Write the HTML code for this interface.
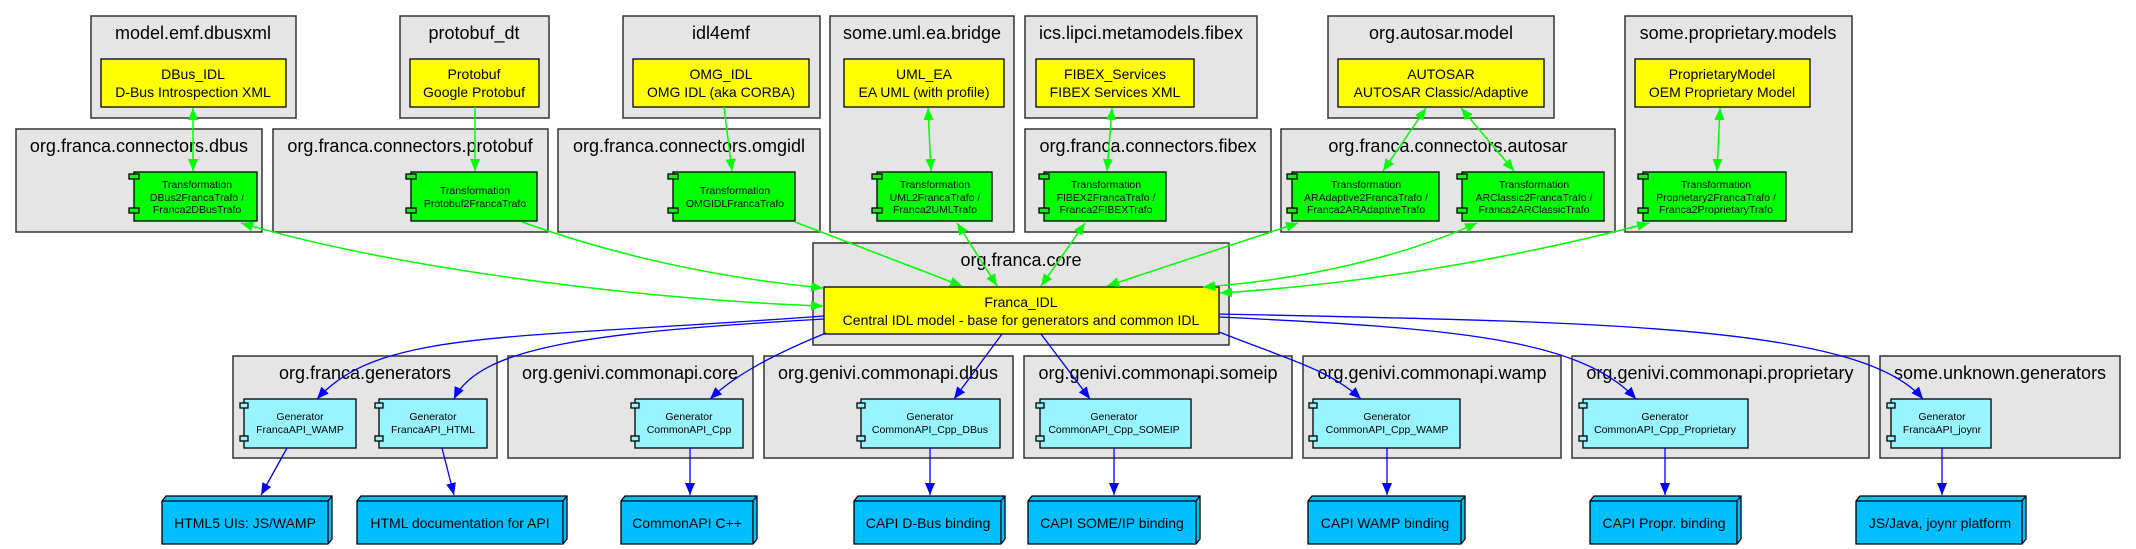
<!DOCTYPE html>
<html><head><meta charset="utf-8"><style>
html,body{margin:0;padding:0;background:#fff;}
svg{display:block;font-family:"Liberation Sans",Arial,sans-serif;}
.cl{fill:#e5e5e5;stroke:#333;stroke-width:1.5}
.ct{font-size:18px;fill:#000;text-anchor:middle}
.y{fill:#ffff00;stroke:#000;stroke-width:1.3}
.g{fill:#00ff00;stroke:#000;stroke-width:1.3}
.c{fill:#98f5ff;stroke:#000;stroke-width:1.3}
.o{fill:#00bfff;stroke:#000;stroke-width:1.3}
.t14{font-size:14px;text-anchor:middle}
.t11{font-size:10.5px;text-anchor:middle}
.ge{fill:none;stroke:#00ff00;stroke-width:1.5}
.be{fill:none;stroke:#0000ff;stroke-width:1.3}
</style></head><body>
<svg width="2136" height="549" viewBox="0 0 2136 549" xmlns="http://www.w3.org/2000/svg">
<defs>
<marker id="ga" markerUnits="userSpaceOnUse" markerWidth="14" markerHeight="12" refX="12" refY="5" orient="auto-start-reverse"><path d="M0,0 L12,5 L0,10 z" fill="#00ff00"/></marker>
<marker id="ba" markerUnits="userSpaceOnUse" markerWidth="14" markerHeight="12" refX="12" refY="5" orient="auto-start-reverse"><path d="M0,0 L12,5 L0,10 z" fill="#0000ff"/></marker>
</defs>

<!-- clusters -->
<rect class="cl" x="91" y="16" width="205" height="102"/><text class="ct" x="193" y="39">model.emf.dbusxml</text>
<rect class="cl" x="400" y="16" width="149" height="102"/><text class="ct" x="474" y="39">protobuf_dt</text>
<rect class="cl" x="623" y="16" width="197" height="102"/><text class="ct" x="721" y="39">idl4emf</text>
<rect class="cl" x="830" y="16" width="184" height="216"/><text class="ct" x="922" y="39">some.uml.ea.bridge</text>
<rect class="cl" x="1025" y="16" width="232" height="102"/><text class="ct" x="1141" y="39">ics.lipci.metamodels.fibex</text>
<rect class="cl" x="1328" y="16" width="226" height="102"/><text class="ct" x="1441" y="39">org.autosar.model</text>
<rect class="cl" x="1625" y="16" width="227" height="216"/><text class="ct" x="1738" y="39">some.proprietary.models</text>
<rect class="cl" x="16" y="129" width="246" height="103"/><text class="ct" x="139" y="152">org.franca.connectors.dbus</text>
<rect class="cl" x="273" y="129" width="275" height="103"/><text class="ct" x="410" y="152">org.franca.connectors.protobuf</text>
<rect class="cl" x="558" y="129" width="262" height="103"/><text class="ct" x="689" y="152">org.franca.connectors.omgidl</text>
<rect class="cl" x="1025" y="129" width="246" height="103"/><text class="ct" x="1148" y="152">org.franca.connectors.fibex</text>
<rect class="cl" x="1281" y="129" width="334" height="103"/><text class="ct" x="1448" y="152">org.franca.connectors.autosar</text>
<rect class="cl" x="813" y="243" width="416" height="102"/><text class="ct" x="1021" y="266">org.franca.core</text>
<rect class="cl" x="233" y="356" width="264" height="102"/><text class="ct" x="365" y="379">org.franca.generators</text>
<rect class="cl" x="508" y="356" width="245" height="102"/><text class="ct" x="630" y="379">org.genivi.commonapi.core</text>
<rect class="cl" x="764" y="356" width="249" height="102"/><text class="ct" x="888" y="379">org.genivi.commonapi.dbus</text>
<rect class="cl" x="1024" y="356" width="268" height="102"/><text class="ct" x="1158" y="379">org.genivi.commonapi.someip</text>
<rect class="cl" x="1303" y="356" width="258" height="102"/><text class="ct" x="1432" y="379">org.genivi.commonapi.wamp</text>
<rect class="cl" x="1572" y="356" width="297" height="102"/><text class="ct" x="1720" y="379">org.genivi.commonapi.proprietary</text>
<rect class="cl" x="1880" y="356" width="240" height="102"/><text class="ct" x="2000" y="379">some.unknown.generators</text>

<!-- yellow model boxes -->
<rect class="y" x="101" y="59" width="185" height="48"/><text class="t14" x="193" y="79">DBus_IDL</text><text class="t14" x="193" y="97">D-Bus Introspection XML</text>
<rect class="y" x="410" y="59" width="129" height="48"/><text class="t14" x="474" y="79">Protobuf</text><text class="t14" x="474" y="97">Google Protobuf</text>
<rect class="y" x="633" y="59" width="176" height="48"/><text class="t14" x="721" y="79">OMG_IDL</text><text class="t14" x="721" y="97">OMG IDL (aka CORBA)</text>
<rect class="y" x="844" y="59" width="160" height="48"/><text class="t14" x="924" y="79">UML_EA</text><text class="t14" x="924" y="97">EA UML (with profile)</text>
<rect class="y" x="1036" y="59" width="158" height="48"/><text class="t14" x="1115" y="79">FIBEX_Services</text><text class="t14" x="1115" y="97">FIBEX Services XML</text>
<rect class="y" x="1338" y="59" width="206" height="48"/><text class="t14" x="1441" y="79">AUTOSAR</text><text class="t14" x="1441" y="97">AUTOSAR Classic/Adaptive</text>
<rect class="y" x="1635" y="59" width="175" height="48"/><text class="t14" x="1722" y="79">ProprietaryModel</text><text class="t14" x="1722" y="97">OEM Proprietary Model</text>
<rect class="y" x="824" y="287" width="395" height="47"/><text class="t14" x="1021" y="307">Franca_IDL</text><text class="t14" x="1021" y="325">Central IDL model - base for generators and common IDL</text>

<!-- green trafo components -->
<g>
<rect class="g" x="134" y="172" width="123" height="49"/><rect class="g" x="129" y="174" width="10" height="5"/><rect class="g" x="129" y="208" width="10" height="5"/>
<text class="t11" x="197" y="188">Transformation</text><text class="t11" x="197" y="201">DBus2FrancaTrafo /</text><text class="t11" x="197" y="213">Franca2DBusTrafo</text>
<rect class="g" x="411" y="172" width="126" height="49"/><rect class="g" x="406" y="174" width="10" height="5"/><rect class="g" x="406" y="208" width="10" height="5"/>
<text class="t11" x="475" y="194">Transformation</text><text class="t11" x="475" y="207">Protobuf2FrancaTrafo</text>
<rect class="g" x="673" y="172" width="122" height="49"/><rect class="g" x="668" y="174" width="10" height="5"/><rect class="g" x="668" y="208" width="10" height="5"/>
<text class="t11" x="735" y="194">Transformation</text><text class="t11" x="735" y="207">OMGIDLFrancaTrafo</text>
<rect class="g" x="877" y="172" width="115" height="49"/><rect class="g" x="872" y="174" width="10" height="5"/><rect class="g" x="872" y="208" width="10" height="5"/>
<text class="t11" x="935" y="188">Transformation</text><text class="t11" x="935" y="201">UML2FrancaTrafo /</text><text class="t11" x="935" y="213">Franca2UMLTrafo</text>
<rect class="g" x="1044" y="172" width="122" height="49"/><rect class="g" x="1039" y="174" width="10" height="5"/><rect class="g" x="1039" y="208" width="10" height="5"/>
<text class="t11" x="1106" y="188">Transformation</text><text class="t11" x="1106" y="201">FIBEX2FrancaTrafo /</text><text class="t11" x="1106" y="213">Franca2FIBEXTrafo</text>
<rect class="g" x="1292" y="172" width="147" height="49"/><rect class="g" x="1287" y="174" width="10" height="5"/><rect class="g" x="1287" y="208" width="10" height="5"/>
<text class="t11" x="1366" y="188">Transformation</text><text class="t11" x="1366" y="201">ARAdaptive2FrancaTrafo /</text><text class="t11" x="1366" y="213">Franca2ARAdaptiveTrafo</text>
<rect class="g" x="1462" y="172" width="142" height="49"/><rect class="g" x="1457" y="174" width="10" height="5"/><rect class="g" x="1457" y="208" width="10" height="5"/>
<text class="t11" x="1534" y="188">Transformation</text><text class="t11" x="1534" y="201">ARClassic2FrancaTrafo /</text><text class="t11" x="1534" y="213">Franca2ARClassicTrafo</text>
<rect class="g" x="1643" y="172" width="143" height="49"/><rect class="g" x="1638" y="174" width="10" height="5"/><rect class="g" x="1638" y="208" width="10" height="5"/>
<text class="t11" x="1716" y="188">Transformation</text><text class="t11" x="1716" y="201">Proprietary2FrancaTrafo /</text><text class="t11" x="1716" y="213">Franca2ProprietaryTrafo</text>
</g>

<!-- generators -->
<g>
<rect class="c" x="244" y="399" width="112" height="49"/><rect class="c" x="240" y="403" width="8" height="5"/><rect class="c" x="240" y="436" width="8" height="5"/>
<text class="t11" x="300" y="420">Generator</text><text class="t11" x="300" y="433">FrancaAPI_WAMP</text>
<rect class="c" x="379" y="399" width="108" height="49"/><rect class="c" x="375" y="403" width="8" height="5"/><rect class="c" x="375" y="436" width="8" height="5"/>
<text class="t11" x="433" y="420">Generator</text><text class="t11" x="433" y="433">FrancaAPI_HTML</text>
<rect class="c" x="635" y="399" width="108" height="49"/><rect class="c" x="631" y="403" width="8" height="5"/><rect class="c" x="631" y="436" width="8" height="5"/>
<text class="t11" x="689" y="420">Generator</text><text class="t11" x="689" y="433">CommonAPI_Cpp</text>
<rect class="c" x="861" y="399" width="139" height="49"/><rect class="c" x="857" y="403" width="8" height="5"/><rect class="c" x="857" y="436" width="8" height="5"/>
<text class="t11" x="930" y="420">Generator</text><text class="t11" x="930" y="433">CommonAPI_Cpp_DBus</text>
<rect class="c" x="1040" y="399" width="151" height="49"/><rect class="c" x="1036" y="403" width="8" height="5"/><rect class="c" x="1036" y="436" width="8" height="5"/>
<text class="t11" x="1114" y="420">Generator</text><text class="t11" x="1114" y="433">CommonAPI_Cpp_SOMEIP</text>
<rect class="c" x="1313" y="399" width="147" height="49"/><rect class="c" x="1309" y="403" width="8" height="5"/><rect class="c" x="1309" y="436" width="8" height="5"/>
<text class="t11" x="1387" y="420">Generator</text><text class="t11" x="1387" y="433">CommonAPI_Cpp_WAMP</text>
<rect class="c" x="1583" y="399" width="165" height="49"/><rect class="c" x="1579" y="403" width="8" height="5"/><rect class="c" x="1579" y="436" width="8" height="5"/>
<text class="t11" x="1665" y="420">Generator</text><text class="t11" x="1665" y="433">CommonAPI_Cpp_Proprietary</text>
<rect class="c" x="1891" y="399" width="100" height="49"/><rect class="c" x="1887" y="403" width="8" height="5"/><rect class="c" x="1887" y="436" width="8" height="5"/>
<text class="t11" x="1942" y="420">Generator</text><text class="t11" x="1942" y="433">FrancaAPI_joynr</text>
</g>

<!-- outputs (box3d) -->
<g>
<path class="o" d="M162,501 L166,496 L332,496 L332,539 L328,544 L162,544 Z"/><path class="o" d="M162,501 L328,501 L328,544 M328,501 L332,496" fill="none"/><text class="t14" x="245" y="528">HTML5 UIs: JS/WAMP</text>
<path class="o" d="M357,501 L361,496 L567,496 L567,539 L563,544 L357,544 Z"/><path class="o" d="M357,501 L563,501 L563,544 M563,501 L567,496" fill="none"/><text class="t14" x="460" y="528">HTML documentation for API</text>
<path class="o" d="M621,501 L625,496 L757,496 L757,539 L753,544 L621,544 Z"/><path class="o" d="M621,501 L753,501 L753,544 M753,501 L757,496" fill="none"/><text class="t14" x="687" y="528">CommonAPI C++</text>
<path class="o" d="M854,501 L858,496 L1005,496 L1005,539 L1001,544 L854,544 Z"/><path class="o" d="M854,501 L1001,501 L1001,544 M1001,501 L1005,496" fill="none"/><text class="t14" x="928" y="528">CAPI D-Bus binding</text>
<path class="o" d="M1028,501 L1032,496 L1200,496 L1200,539 L1196,544 L1028,544 Z"/><path class="o" d="M1028,501 L1196,501 L1196,544 M1196,501 L1200,496" fill="none"/><text class="t14" x="1112" y="528">CAPI SOME/IP binding</text>
<path class="o" d="M1308,501 L1312,496 L1465,496 L1465,539 L1461,544 L1308,544 Z"/><path class="o" d="M1308,501 L1461,501 L1461,544 M1461,501 L1465,496" fill="none"/><text class="t14" x="1385" y="528">CAPI WAMP binding</text>
<path class="o" d="M1590,501 L1594,496 L1741,496 L1741,539 L1737,544 L1590,544 Z"/><path class="o" d="M1590,501 L1737,501 L1737,544 M1737,501 L1741,496" fill="none"/><text class="t14" x="1664" y="528">CAPI Propr. binding</text>
<path class="o" d="M1856,501 L1860,496 L2026,496 L2026,539 L2022,544 L1856,544 Z"/><path class="o" d="M1856,501 L2022,501 L2022,544 M2022,501 L2026,496" fill="none"/><text class="t14" x="1940" y="528">JS/Java, joynr platform</text>
</g>

<!-- green edges -->
<path class="ge" d="M193,108 L193,171" marker-start="url(#ga)" marker-end="url(#ga)"/>
<path class="ge" d="M475,107 L475,171" marker-end="url(#ga)"/>
<path class="ge" d="M724,107 L732,171" marker-end="url(#ga)"/>
<path class="ge" d="M928,108 L931,171" marker-start="url(#ga)" marker-end="url(#ga)"/>
<path class="ge" d="M1112,108 L1107,171" marker-start="url(#ga)" marker-end="url(#ga)"/>
<path class="ge" d="M1426,108 L1383,171" marker-start="url(#ga)" marker-end="url(#ga)"/>
<path class="ge" d="M1461,108 L1514,171" marker-start="url(#ga)" marker-end="url(#ga)"/>
<path class="ge" d="M1720,108 L1717,171" marker-start="url(#ga)" marker-end="url(#ga)"/>
<path class="ge" d="M241,223 C400,270 650,300 823,306" marker-start="url(#ga)" marker-end="url(#ga)"/>
<path class="ge" d="M522,222 C600,250 700,276 823,288" marker-end="url(#ga)"/>
<path class="ge" d="M795,222 L962,286" marker-end="url(#ga)"/>
<path class="ge" d="M957,223 L997,286" marker-start="url(#ga)" marker-end="url(#ga)"/>
<path class="ge" d="M1085,223 L1041,286" marker-start="url(#ga)" marker-end="url(#ga)"/>
<path class="ge" d="M1298,223 L1107,286" marker-start="url(#ga)" marker-end="url(#ga)"/>
<path class="ge" d="M1477,223 C1400,258 1300,280 1203,287" marker-start="url(#ga)" marker-end="url(#ga)"/>
<path class="ge" d="M1649,223 C1500,262 1350,285 1220,293" marker-start="url(#ga)" marker-end="url(#ga)"/>

<!-- blue edges -->
<path class="be" d="M824,316 C500,340 380,330 317,399" marker-end="url(#ba)"/>
<path class="be" d="M824,319 C600,332 480,345 454,399" marker-end="url(#ba)"/>
<path class="be" d="M826,333 C760,360 730,380 710,399" marker-end="url(#ba)"/>
<path class="be" d="M1002,334 L954,399" marker-end="url(#ba)"/>
<path class="be" d="M1041,334 L1090,399" marker-end="url(#ba)"/>
<path class="be" d="M1219,332 C1290,360 1330,370 1361,399" marker-end="url(#ba)"/>
<path class="be" d="M1219,317 C1450,328 1580,338 1636,399" marker-end="url(#ba)"/>
<path class="be" d="M1219,314 C1600,322 1860,325 1923,399" marker-end="url(#ba)"/>
<path class="be" d="M287,448 L261,495" marker-end="url(#ba)"/>
<path class="be" d="M442,448 L454,495" marker-end="url(#ba)"/>
<path class="be" d="M690,448 L690,495" marker-end="url(#ba)"/>
<path class="be" d="M930,448 L930,495" marker-end="url(#ba)"/>
<path class="be" d="M1114,448 L1114,495" marker-end="url(#ba)"/>
<path class="be" d="M1387,448 L1387,495" marker-end="url(#ba)"/>
<path class="be" d="M1665,448 L1665,495" marker-end="url(#ba)"/>
<path class="be" d="M1942,448 L1942,495" marker-end="url(#ba)"/>
</svg>
</body></html>
